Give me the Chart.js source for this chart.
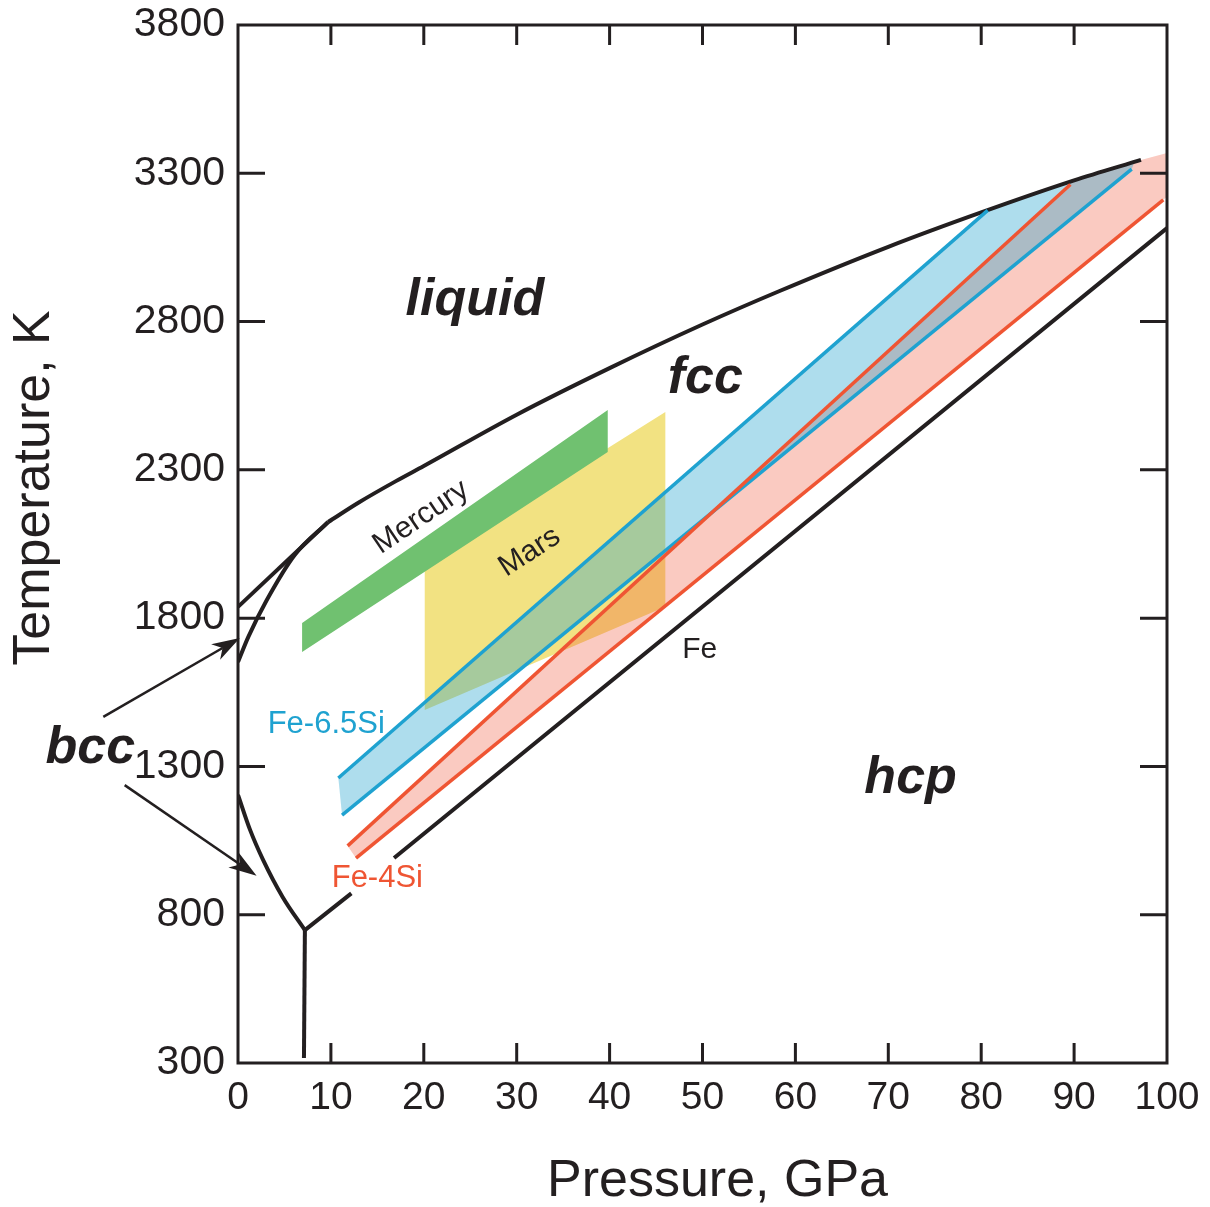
<!DOCTYPE html>
<html>
<head>
<meta charset="utf-8"/>
<style>
  body { margin: 0; padding: 0; background: #ffffff; }
  #wrap { width: 1210px; height: 1207px; }
</style>
<script src="https://cdn.jsdelivr.net/npm/chart.js@4.4.1/dist/chart.umd.min.js"></script>
</head>
<body>
<div id="wrap"><canvas id="c" width="1210" height="1207"></canvas></div>
<script>
// phase boundaries, points are [pressure GPa, temperature K]
var meltBcc = [[0, 1838], [9.7, 2124]];
var meltFcc = [[9.7, 2124], [13, 2190], [17, 2262], [20, 2313], [30, 2486], [40, 2643],
               [50, 2790], [58.3, 2903], [70, 3052], [80, 3168], [90, 3276], [97.2, 3345]];
var bccFccHigh = [[0, 1652], [1.1, 1736], [3.1, 1861], [6.1, 2013], [9.7, 2124]];
var bccFccLow = [[0, 1204], [1.3, 1086], [2.7, 985], [4.8, 860], [7.2, 748]];
var bccHcp = [[7.1, 317], [7.2, 748]];
var feFccHcp = [[7.2, 748], [12.2, 872], [14.5, null], [16.8, 991], [100, 3115]];
var si65Upper = [[10.8, 1261], [80.7, 3175]];
var si65Lower = [[11.2, 1136], [96.2, 3314]];
var si4Upper = [[11.8, 1032], [89.6, 3262]];
var si4Lower = [[12.7, 991], [99.6, 3210]];

// shaded fields, closed outlines
var si65Field = [[10.8, 1261], [80.7, 3175], [85, 3222], [90, 3276], [96.5, 3339], [96.2, 3314], [11.2, 1136]];
var si4Field = [[11.8, 1032], [89.6, 3266], [93, 3305], [97.2, 3345], [100, 3368], [100, 3221], [12.7, 991]];
var marsField = [[20.1, 1986], [46, 2495], [46, 1838], [20.1, 1490]];
var mercuryField = [[6.9, 1784], [39.8, 2502], [39.8, 2360], [6.9, 1686]];

var xTickValues = [0, 10, 20, 30, 40, 50, 60, 70, 80, 90, 100];
var yTickValues = [300, 800, 1300, 1800, 2300, 2800, 3300, 3800];

var ink = '#231f20';
var blue = '#1fa2d0';
var red = '#ef5533';
var fam = '"Liberation Sans", Arial, Helvetica, sans-serif';

function xy(pts) {
  return pts.map(function (p) { return { x: p[0], y: p[1] }; });
}

function field(pts, color, order) {
  return { data: xy(pts), showLine: true, fill: 'shape', backgroundColor: color,
           borderWidth: 0, pointRadius: 0, order: order };
}

function curve(pts, color, order, smooth, w) {
  return { data: xy(pts), showLine: true, fill: false, borderColor: color, borderWidth: w || 3.5,
           pointRadius: 0, order: order, cubicInterpolationMode: smooth ? 'monotone' : 'default' };
}

// text and arrows, positions given in axis units
var notes = [
  { text: 'liquid', x: 25.5, y: 2822, font: 'italic bold 52px ' + fam, color: ink },
  { text: 'fcc', x: 50.3, y: 2559, font: 'italic bold 52px ' + fam, color: ink },
  { text: 'hcp', x: 72.4, y: 1210, font: 'italic bold 52px ' + fam, color: ink },
  { text: 'bcc', x: -15.9, y: 1312, font: 'italic bold 52px ' + fam, color: ink },
  { text: 'Mercury', x: 19.7, y: 2140, font: '30px ' + fam, color: ink, rot: -34, mid: true },
  { text: 'Mars', x: 31.4, y: 2023, font: '30px ' + fam, color: ink, rot: -33, mid: true },
  { text: 'Fe', x: 49.7, y: 1666, font: '30px ' + fam, color: ink },
  { text: 'Fe-6.5Si', x: 9.5, y: 1413, font: '31px ' + fam, color: blue },
  { text: 'Fe-4Si', x: 15.0, y: 893, font: '31px ' + fam, color: red }
];
var arrows = [
  { from: [-14.5, 1467], to: [0.2, 1733] },
  { from: [-12.2, 1237], to: [2.0, 931] }
];

var decor = {
  id: 'decor',
  afterDraw: function (chart) {
    var ctx = chart.ctx, a = chart.chartArea, sx = chart.scales.x, sy = chart.scales.y;
    ctx.save();
    ctx.strokeStyle = ink;
    ctx.lineWidth = 3;
    ctx.strokeRect(a.left, a.top, a.right - a.left, a.bottom - a.top);
    ctx.beginPath();
    xTickValues.forEach(function (v) {
      if (v <= sx.min || v >= sx.max) return;
      var px = sx.getPixelForValue(v);
      ctx.moveTo(px, a.bottom); ctx.lineTo(px, a.bottom - 20);
      ctx.moveTo(px, a.top); ctx.lineTo(px, a.top + 20);
    });
    yTickValues.forEach(function (v) {
      if (v <= sy.min || v >= sy.max) return;
      var py = sy.getPixelForValue(v);
      ctx.moveTo(a.left, py); ctx.lineTo(a.left + 27, py);
      ctx.moveTo(a.right, py); ctx.lineTo(a.right - 27, py);
    });
    ctx.stroke();

    // arrows pointing at the bcc fields
    ctx.lineWidth = 2.5;
    ctx.fillStyle = ink;
    arrows.forEach(function (ar) {
      var x0 = sx.getPixelForValue(ar.from[0]), y0 = sy.getPixelForValue(ar.from[1]);
      var x1 = sx.getPixelForValue(ar.to[0]), y1 = sy.getPixelForValue(ar.to[1]);
      var ang = Math.atan2(y1 - y0, x1 - x0), len = 28, hw = 9;
      var c = Math.cos(ang), s = Math.sin(ang);
      var bx = x1 - len * c, by = y1 - len * s;
      ctx.beginPath();
      ctx.moveTo(x0, y0); ctx.lineTo(bx + 8 * c, by + 8 * s);
      ctx.stroke();
      ctx.beginPath();
      ctx.moveTo(x1, y1);
      ctx.lineTo(bx + hw * s, by - hw * c);
      ctx.lineTo(bx + 8 * c, by + 8 * s);
      ctx.lineTo(bx - hw * s, by + hw * c);
      ctx.closePath();
      ctx.fill();
    });

    notes.forEach(function (n) {
      ctx.save();
      ctx.translate(sx.getPixelForValue(n.x), sy.getPixelForValue(n.y));
      if (n.rot) ctx.rotate(n.rot * Math.PI / 180);
      ctx.font = n.font;
      ctx.fillStyle = n.color;
      ctx.textAlign = 'center';
      ctx.textBaseline = n.mid ? 'middle' : 'alphabetic';
      ctx.fillText(n.text, 0, 0);
      ctx.restore();
    });

    // axis titles
    ctx.fillStyle = ink;
    ctx.font = '52px ' + fam;
    ctx.textAlign = 'center';
    ctx.textBaseline = 'alphabetic';
    ctx.fillText('Pressure, GPa', (a.left + a.right) / 2 + 15, a.bottom + 133);
    ctx.save();
    ctx.translate(49, (a.top + a.bottom) / 2 - 56);
    ctx.rotate(-Math.PI / 2);
    ctx.fillText('Temperature, K', 0, 0);
    ctx.restore();
    ctx.restore();
  }
};

Chart.defaults.font.family = fam;
Chart.defaults.color = ink;

new Chart(document.getElementById('c'), {
  type: 'scatter',
  data: {
    datasets: [
      field(marsField, 'rgb(242,226,130)', 20),
      field(si4Field, 'rgba(239,80,50,0.3)', 19),
      field(si65Field, 'rgba(30,160,205,0.36)', 18),
      field(mercuryField, 'rgb(112,193,112)', 17),
      curve(meltBcc, ink, 5, false, 4),
      curve(meltFcc, ink, 5, true, 4),
      curve(bccFccHigh, ink, 5, true, 4),
      curve(bccFccLow, ink, 5, true, 4),
      curve(bccHcp, ink, 5, false, 4),
      curve(feFccHcp, ink, 5, false, 4),
      curve(si65Upper, blue, 3, false),
      curve(si65Lower, blue, 3, false),
      curve(si4Upper, red, 2, false),
      curve(si4Lower, red, 2, false)
    ]
  },
  options: {
    responsive: false,
    animation: false,
    devicePixelRatio: 1,
    layout: { padding: { top: 25, right: 43, left: 0, bottom: 0 } },
    plugins: { legend: { display: false }, tooltip: { enabled: false } },
    elements: { point: { radius: 0 } },
    scales: {
      x: {
        type: 'linear', min: 0, max: 100,
        afterBuildTicks: function (s) { s.ticks = xTickValues.map(function (v) { return { value: v }; }); },
        afterFit: function (s) { s.height = 144; s.paddingLeft = 0; s.paddingRight = 0; },
        grid: { display: false },
        border: { display: false },
        ticks: { font: { size: 39 }, color: ink, padding: 4, maxRotation: 0, autoSkip: false,
                 callback: function (v) { return String(v); } }
      },
      y: {
        type: 'linear', min: 300, max: 3800,
        afterBuildTicks: function (s) { s.ticks = yTickValues.map(function (v) { return { value: v }; }); },
        afterFit: function (s) { s.width = 238; s.paddingTop = 0; s.paddingBottom = 0; },
        grid: { display: false },
        border: { display: false },
        ticks: { font: { size: 41 }, color: ink, padding: 5, autoSkip: false,
                 callback: function (v) { return String(v); } }
      }
    }
  },
  plugins: [decor]
});
</script>
</body>
</html>
